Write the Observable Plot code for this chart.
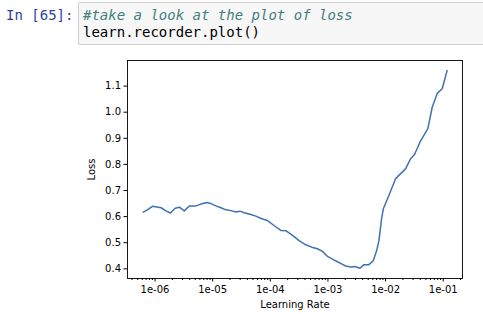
<!DOCTYPE html>
<html><head><meta charset="utf-8">
<script src="https://cdn.jsdelivr.net/npm/d3@7"></script>
<script src="https://cdn.jsdelivr.net/npm/@observablehq/plot@0.6"></script>
<style>
body{margin:0;background:#fff;width:483px;height:314px;overflow:hidden;position:relative;font-family:"DejaVu Sans",sans-serif}
#prompt{position:absolute;left:6px;top:7px;font:14px "DejaVu Sans Mono",monospace;color:#303F9F;white-space:pre}
#code{position:absolute;left:78px;top:2px;width:430px;height:43px;background:#f7f7f7;border:1px solid #cfcfcf;border-radius:2px;font:14px "DejaVu Sans Mono",monospace;white-space:pre;line-height:17px;box-sizing:border-box;padding:4px 0 0 4px}
#code .c{color:#408080;font-style:italic}
#code .t{color:#000}
#chart{position:absolute;left:0;top:50px}
</style>
</head><body>
<div id="prompt">In [65]:</div>
<div id="code"><span class="c">#take a look at the plot of loss</span>
<span class="t">learn.recorder.plot()</span></div>
<div id="chart"></div>
<script>
const learningRates = [6.27e-7,7.48e-7,9.12e-7,1.27e-6,1.55e-6,1.84e-6,2.25e-6,2.64e-6,3.22e-6,3.93e-6,5.13e-6,6.26e-6,7.96e-6,9.33e-6,1.14e-5,1.39e-5,1.70e-5,2.07e-5,2.53e-5,2.97e-5,3.52e-5,4.60e-5,5.61e-5,7.13e-5,8.95e-5,1.16e-4,1.52e-4,1.86e-4,2.43e-4,3.16e-4,4.12e-4,5.24e-4,6.57e-4,8.02e-4,9.79e-4,1.27e-3,1.66e-3,2.03e-3,2.48e-3,2.94e-3,3.60e-3,4.22e-3,5.14e-3,6.14e-3,7.00e-3,7.67e-3,8.53e-3,9.14e-3,1.14e-2,1.49e-2,1.70e-2,2.22e-2,2.72e-2,3.18e-2,3.94e-2,5.41e-2,6.44e-2,7.87e-2,9.61e-2,1.17e-1];
const losses = [0.617,0.627,0.640,0.634,0.622,0.614,0.632,0.636,0.622,0.641,0.641,0.648,0.654,0.650,0.641,0.634,0.626,0.623,0.618,0.621,0.615,0.608,0.602,0.592,0.585,0.566,0.547,0.546,0.528,0.508,0.492,0.483,0.477,0.467,0.448,0.434,0.421,0.411,0.407,0.409,0.402,0.416,0.416,0.432,0.470,0.508,0.592,0.630,0.681,0.745,0.758,0.783,0.822,0.838,0.885,0.937,1.019,1.072,1.090,1.160];
const xTicks = [1e-6,1e-5,1e-4,1e-3,1e-2,1e-1];
const xTickLabels = ["1e-06","1e-05","1e-04","1e-03","1e-02","1e-01"];
const yTicks = [0.4,0.5,0.6,0.7,0.8,0.9,1.0,1.1];
const yTickLabels = ["0.4","0.5","0.6","0.7","0.8","0.9","1.0","1.1"];

const data = learningRates.map((lr, i) => ({lr, loss: losses[i]}));
const xDomain = [3.33e-7, 0.216];
const minorTicks = [];
for (let e = -7; e <= -1; e++) for (let m = 2; m <= 9; m++) {
  const v = m * Math.pow(10, e);
  if (v > xDomain[0] && v < xDomain[1]) minorTicks.push(v);
}
const xLabelOf = d => {
  const k = xTicks.findIndex(t => Math.abs(Math.log10(t / d)) < 1e-6);
  return k >= 0 ? xTickLabels[k] : "";
};
const yLabelOf = d => {
  const k = yTicks.findIndex(t => Math.abs(t - d) < 1e-9);
  return k >= 0 ? yTickLabels[k] : "";
};

const chart = Plot.plot({
  width: 483,
  height: 264,
  marginLeft: 127,
  marginRight: 21,
  marginTop: 10,
  marginBottom: 36,
  style: {fontFamily: "DejaVu Sans, sans-serif", fontSize: "10px", color: "#000", background: "#fff"},
  x: {type: "log", domain: xDomain},
  y: {domain: [0.363, 1.198]},
  marks: [
    Plot.axisX({ticks: minorTicks, tickSize: 2, text: null, label: null}),
    Plot.axisX({ticks: xTicks, tickSize: 3.5, tickPadding: 4, tickFormat: xLabelOf, label: "Learning Rate", labelAnchor: "center", labelArrow: "none", labelOffset: 29}),
    Plot.axisY({ticks: yTicks, tickSize: 3.5, tickPadding: 3, tickFormat: yLabelOf, label: "Loss", labelAnchor: "center", labelArrow: "none", labelOffset: 40}),
    Plot.line(data, {x: "lr", y: "loss", stroke: "#3f72b0", strokeWidth: 1.5}),
    Plot.frame({stroke: "#000", strokeWidth: 0.9})
  ]
});
document.getElementById("chart").appendChild(chart);
</script>
</body></html>
